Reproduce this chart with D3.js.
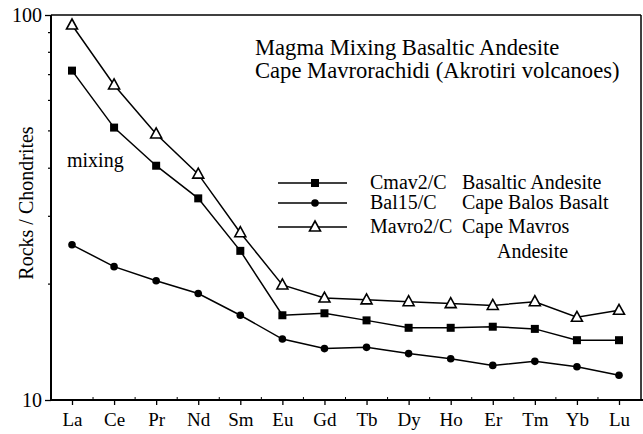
<!DOCTYPE html>
<html><head><meta charset="utf-8">
<script src="https://cdn.jsdelivr.net/npm/d3@7"></script>
<style>body{margin:0;background:#fff}</style>
</head><body><svg id="c" width="643" height="434"></svg>
<script>
const elements = ["La","Ce","Pr","Nd","Sm","Eu","Gd","Tb","Dy","Ho","Er","Tm","Yb","Lu"];
const cmav2 = [71.7,51.0,40.6,33.4,24.4,16.6,16.8,16.1,15.4,15.4,15.5,15.3,14.3,14.3];
const bal15 = [25.3,22.2,20.4,18.9,16.6,14.4,13.6,13.7,13.2,12.8,12.3,12.6,12.2,11.6];
const mavro2 = [94.2,65.8,49.1,38.6,27.2,19.9,18.4,18.2,18.0,17.8,17.6,18.0,16.4,17.1];
const yTicks = [10,100];
const yMinor = [20,30,40,50,60,70,80,90];
const legendCodes = ["Cmav2/C","Bal15/C","Mavro2/C"];
const legendNames = ["Basaltic Andesite","Cape Balos Basalt","Cape Mavros"];
const titleLines = ["Magma Mixing Basaltic Andesite","Cape Mavrorachidi (Akrotiri volcanoes)"];

const FONT = "'Liberation Serif', 'Times New Roman', Times, 'DejaVu Serif', serif";
const svg = d3.select("#c").attr("font-family",FONT);
const L=51, R=641, T=15, B=400;
const x = d3.scalePoint().domain(elements).range([72,619]);
const y = d3.scaleLog().domain([10,100]).range([B,T]);

// frame
svg.append("line").attr("x1",L).attr("x2",R).attr("y1",T).attr("y2",T).attr("stroke","#000").attr("stroke-width",1.5);
svg.append("line").attr("x1",R).attr("x2",R).attr("y1",T).attr("y2",B).attr("stroke","#000").attr("stroke-width",1.5);

// x axis
const xa = svg.append("g").attr("transform",`translate(0,${B})`)
  .call(d3.axisBottom(x).tickSize(5).tickPadding(8));
xa.attr("font-family",FONT);
xa.select(".domain").attr("d",`M${L},0H643`).attr("stroke-width",2);
xa.selectAll(".tick line").attr("stroke-width",1.3);
xa.selectAll("text").attr("font-size",19).attr("font-family",FONT).attr("fill","#000");
// minor x ticks at midpoints
const mids = elements.slice(0,-1).map((e,i)=> (x(e)+x(elements[i+1]))/2);
svg.append("g").selectAll("line").data(mids).join("line")
  .attr("x1",d=>d).attr("x2",d=>d).attr("y1",B).attr("y2",B-3).attr("stroke","#000");

// y axis
const ya = svg.append("g").attr("transform",`translate(${L},0)`)
  .call(d3.axisLeft(y).tickValues(yTicks).tickFormat(d3.format("d")).tickSize(6).tickPadding(3));
ya.attr("font-family",FONT);
ya.select(".domain").attr("d",`M0,${B}V${T}`).attr("stroke-width",2);
ya.selectAll(".tick line").attr("stroke-width",1.3);
ya.selectAll("text").attr("font-size",20).attr("font-family",FONT).attr("fill","#000").attr("dy","0.3em");
svg.append("g").selectAll("line").data(yMinor).join("line")
  .attr("x1",L-3).attr("x2",L).attr("y1",d=>y(d)).attr("y2",d=>y(d)).attr("stroke","#000").attr("stroke-width",1.2);

svg.append("text").attr("transform","translate(33,203) rotate(-90)").attr("text-anchor","middle")
  .attr("font-size",20).attr("font-family",FONT).text("Rocks / Chondrites");

// series
const line = d3.line().x((d,i)=>x(elements[i])).y(d=>y(d));
const series = [
  {vals:cmav2, m:"square"},
  {vals:bal15, m:"circle"},
  {vals:mavro2, m:"triangle"}
];
function marker(g, type, cx, cy){
  if(type==="square") g.append("rect").attr("x",cx-4).attr("y",cy-4).attr("width",8).attr("height",8).attr("fill","#000");
  else if(type==="circle") g.append("circle").attr("cx",cx).attr("cy",cy).attr("r",3.8).attr("fill","#000");
  else g.append("path").attr("d",`M${cx},${cy-6}L${cx+5.5},${cy+4}L${cx-5.5},${cy+4}Z`).attr("fill","#fff").attr("stroke","#000").attr("stroke-width",1.6);
}
series.forEach(s=>{
  svg.append("path").datum(s.vals).attr("d",line).attr("fill","none").attr("stroke","#000").attr("stroke-width",1.5);
  const g = svg.append("g");
  s.vals.forEach((v,i)=>marker(g,s.m,x(elements[i]),y(v)));
});

// title
svg.append("g").selectAll("text").data(titleLines).join("text")
  .attr("x",255).attr("y",(d,i)=>55+i*23).attr("font-size",22.6).attr("font-family",FONT).text(d=>d);

svg.append("text").attr("x",67).attr("y",167).attr("font-size",20).attr("font-family",FONT).text("mixing");

// legend
const ly = [183,203,227];
const lg = svg.append("g").attr("font-family",FONT);
series.forEach((s,i)=>{
  lg.append("line").attr("x1",278).attr("x2",347).attr("y1",ly[i]).attr("y2",ly[i]).attr("stroke","#000").attr("stroke-width",1.5);
  marker(lg,s.m,315,ly[i]);
  lg.append("text").attr("x",370).attr("y",ly[i]+6).attr("font-size",20).text(legendCodes[i]);
  lg.append("text").attr("x",462).attr("y",ly[i]+6).attr("font-size",20).text(legendNames[i]);
});
lg.append("text").attr("x",497).attr("y",258).attr("font-size",20).text("Andesite");
</script></body></html>
